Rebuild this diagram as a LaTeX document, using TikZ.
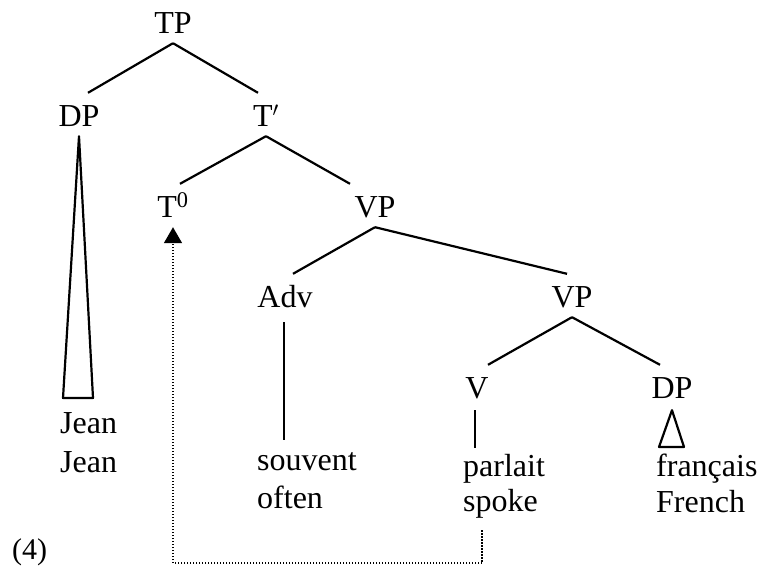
\documentclass[tikz,border=0pt]{standalone}
\usepackage{fontspec}
\setmainfont{Liberation Serif}
\usetikzlibrary{arrows.meta}

\begin{document}
\begin{tikzpicture}[x=1pt, y=-1pt,
  cat/.style={font=\fontsize{32}{38}\selectfont, text height=23pt, text depth=0pt,
    inner xsep=2pt, inner ysep=10pt, anchor=base},
  leaf/.style={font=\fontsize{32}{38}\selectfont, inner sep=0pt, anchor=base west},
  branch/.style={line width=2.2pt, line join=round},
  move/.style={line width=1.6pt, dash pattern=on 1.5pt off 1.5pt,
    -{Triangle[width=18pt,length=16pt]}}
]
\useasboundingbox (0,0) rectangle (761,570);

% categories
\node[cat] (TP)    at (173,33)  {TP};
\node[cat] (DP)    at (79,126)  {DP};
\node[cat] (Tbar)  at (266,126) {T$'$};
\node[cat] (T0)    at (173,217) {T\textsuperscript{0}};
\node[cat] (VP)    at (375,217) {VP};
\node[cat] (Adv)   at (285,307) {Adv};
\node[cat] (VPlow) at (572,307) {VP};
\node[cat] (V)     at (477,398) {V};
\node[cat] (DPobj) at (672,398) {DP};

% words and glosses
\node[leaf] (jean)       at (60,433)  {Jean};
\node[leaf] (jeanGl)     at (60,472)  {Jean};
\node[leaf] (souvent)    at (257,470) {souvent};
\node[leaf] (souventGl)  at (257,508) {often};
\node[leaf] (parlait)    at (463,476) {parlait};
\node[leaf] (parlaitGl)  at (463,511) {spoke};
\node[leaf] (francais)   at (656,476) {français};
\node[leaf] (francaisGl) at (656,512) {French};
\node[leaf, font=\fontsize{30}{36}\selectfont] (exnum) at (12,559) {(4)};

\coordinate (jeanTop)     at (78,398);
\coordinate (souventTop)  at (284,440);
\coordinate (parlaitTop)  at (475,448);
\coordinate (francaisTop) at (672,447);
\coordinate (trace)       at (482,530);

% branches
\draw[branch] (TP.south) -- ([xshift=9pt]DP.north);
\draw[branch] (TP.south) -- ([xshift=-8pt]Tbar.north);
\draw[branch] (Tbar.south) -- ([xshift=7pt]T0.north);
\draw[branch] (Tbar.south) -- ([xshift=-25pt]VP.north);
\draw[branch] (VP.south) -- ([xshift=8pt]Adv.north);
\draw[branch] (VP.south) -- ([xshift=-5pt]VPlow.north);
\draw[branch] (VPlow.south) -- ([xshift=11pt]V.north);
\draw[branch] (VPlow.south) -- ([xshift=-12pt]DPobj.north);

% lexical material
\draw[branch] (DP.south) -- ([xshift=-15pt]jeanTop) -- ([xshift=15pt]jeanTop) -- cycle;
\draw[branch] ([yshift=-5pt]Adv.south -| souventTop) -- (souventTop);
\draw[branch] ([yshift=-2pt]V.south -| parlaitTop) -- (parlaitTop);
\draw[branch] ([yshift=-2pt]DPobj.south) -- ([xshift=-13pt]francaisTop)
  -- ([xshift=12pt]francaisTop) -- cycle;

% V-to-T movement
\draw[move] (trace) -- ++(0,33) -| (T0.south);
\end{tikzpicture}
\end{document}
